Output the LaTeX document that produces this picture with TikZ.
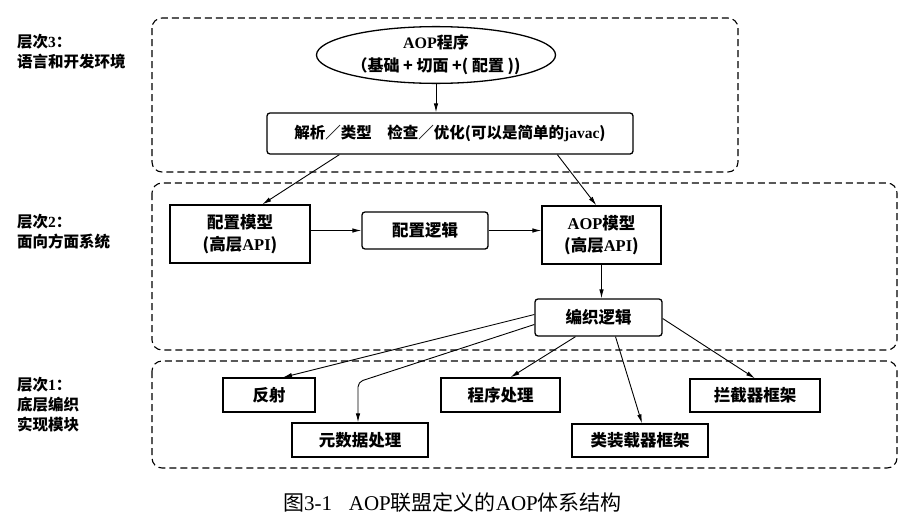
\documentclass[tikz,border=0pt]{standalone}
\usepackage{fontspec}
\setmainfont{Noto Sans CJK SC}
\newfontfamily\lat{Liberation Serif}
\usetikzlibrary{shapes.geometric,arrows.meta,calc}
\begin{document}
\begin{tikzpicture}[x=1pt,y=-1pt,
  layer/.style={draw,dash pattern=on 7pt off 4pt,line width=1.1pt,rounded corners=10pt},
  box/.style={draw,line width=1.3pt,align=center,inner sep=0pt,
    font=\fontsize{16.5}{22}\selectfont\bfseries},
  rbox/.style={box,rounded corners=3pt},
  arr/.style={-{Latex[length=9pt,width=4.5pt]},line width=0.9pt},
  lbl/.style={anchor=west,align=left,inner sep=0pt,
    font=\fontsize{15.5}{20}\selectfont\bfseries}
]
\useasboundingbox (0,0) rectangle (909,522);

% layers
\draw[layer] (152,18) rectangle (738,172);
\draw[layer] (152,183) rectangle (897,350);
\draw[layer] (152,361) rectangle (897,468);

% layer labels
\node[lbl] (l3) at (17,52) {层次{\lat 3}：\\语言和开发环境};
\node[lbl] (l2) at (17,232) {层次{\lat 2}：\\面向方面系统};
\node[lbl] (l1) at (17,405) {层次{\lat 1}：\\底层编织\\实现模块};

% level 3
\node[draw,ellipse,line width=1.3pt,minimum width=232pt,minimum height=54pt,inner sep=0pt,
  align=center,font=\fontsize{16}{23}\selectfont\bfseries] (aop) at (436,55)
  {{\lat AOP}程序\\（基础 + 切面 +( 配置 ))};
\node[rbox,minimum width=366pt,minimum height=41pt,font=\fontsize{15.5}{20}\selectfont\bfseries] (parse) at (450,133.5)
  {解析／类型\hspace{1em}检查／优化(可以是简单的{\lat javac})};

% level 2
\node[box,minimum width=140pt,minimum height=58pt] (cm) at (240,234) {配置模型\\(高层{\lat API})};
\node[rbox,minimum width=126pt,minimum height=37pt] (logic) at (425,230.5) {配置逻辑};
\node[box,minimum width=119pt,minimum height=58pt] (aopm) at (601.5,235) {{\lat AOP}模型\\(高层{\lat API})};
\node[rbox,minimum width=127pt,minimum height=37pt] (weave) at (598.5,317.5) {编织逻辑};

% level 1
\node[box,minimum width=92pt,minimum height=34pt] (refl) at (269,395) {反射};
\node[box,minimum width=136pt,minimum height=34pt] (meta) at (360,440) {元数据处理};
\node[box,minimum width=119pt,minimum height=34pt] (prog) at (500.5,395) {程序处理};
\node[box,minimum width=136pt,minimum height=33pt] (cls) at (640,440.5) {类装载器框架};
\node[box,minimum width=130pt,minimum height=33pt] (icpt) at (755,395.5) {拦截器框架};

% connectors
\draw[arr] (aop.south) -- (aop.south |- parse.north);
\draw[arr] ($(parse.south west)+(73,0)$) -- ($(cm.north west)+(93,0)$);
\draw[arr] ($(parse.south west)+(291,0)$) -- ($(aopm.north west)+(55,0)$);
\draw[arr] (cm.east |- logic) -- (logic.west);
\draw[arr] (logic.east) -- (logic.east -| aopm.west);
\draw[arr] (aopm.south) -- (aopm.south |- weave.north);

\coordinate (bend) at (358,382);
\draw[arr] ($(weave.west)+(0,-3)$) -- ($(refl.north)+(14,0)$);
\draw[arr,rounded corners=5pt] ($(weave.west)+(0,7)$) -- (bend) -- (bend |- meta.north);
\draw[arr] ($(weave.south)+(-23,0)$) -- ($(prog.north)+(10,0)$);
\draw[arr] ($(weave.south)+(17,0)$) -- ($(cls.north)+(2,0)$);
\draw[arr] ($(weave.east)+(0,1)$) -- (icpt.north);

% caption
\node[inner sep=0pt,font=\fontsize{21}{24}\selectfont] (cap) at (452.5,503)
  {图{\lat 3-1}\hspace{0.8em}{\lat AOP}联盟定义的{\lat AOP}体系结构};
\end{tikzpicture}
\end{document}
